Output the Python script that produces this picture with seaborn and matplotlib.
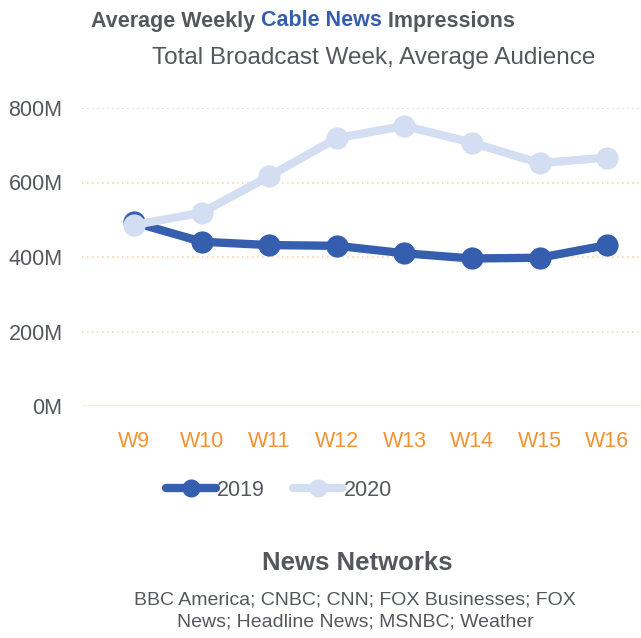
import matplotlib
matplotlib.use("Agg")
import matplotlib.pyplot as plt
import seaborn as sns
import pandas as pd
from matplotlib.lines import Line2D

weeks = ["W9", "W10", "W11", "W12", "W13", "W14", "W15", "W16"]
values_2019 = [493, 441, 432, 430, 410, 396, 398, 432]
values_2020 = [486, 519, 617, 719, 752, 707, 652, 667]
series_names = ["2019", "2020"]
ytick_values = [0, 200, 400, 600, 800]
ytick_labels = ["0M", "200M", "400M", "600M", "800M"]

sns.set_theme(style="white")
plt.rcParams["font.family"] = ["Liberation Sans", "DejaVu Sans"]

df = pd.DataFrame({
    "week": weeks * 2,
    "value": values_2019 + values_2020,
    "year": [series_names[0]] * len(weeks) + [series_names[1]] * len(weeks),
})

dark = "#365EAF"
light = "#D4DEF2"
grey = "#54585D"
orange = "#F39230"

fig = plt.figure(figsize=(6.41, 6.38), dpi=100)
ax = fig.add_axes([82 / 641, 1 - 406 / 638, 1 - 82 / 641, (406 - 108) / 638])

sns.lineplot(data=df, x="week", y="value", hue="year", hue_order=series_names,
             palette={"2019": dark, "2020": light}, marker="o", markersize=16,
             markeredgewidth=0, linewidth=6, ax=ax, legend=False, clip_on=False,
             sort=False)
for ln in ax.lines:
    ln.set_solid_capstyle("round")
    ln.set_solid_joinstyle("round")
ax.lines[0].set_zorder(3)
ax.lines[1].set_zorder(4)

ax.set_xlim(-0.77, 7.5)
ax.set_ylim(0, 800)
ax.set_yticks(ytick_values)
ax.set_yticklabels(ytick_labels)
for v in ytick_values[1:]:
    ax.axhline(v, color="#F5D9B0", lw=1.2, ls=(0, (1, 2)), zorder=0)
ax.axhline(0, color="#FBF1E3", lw=1.5, zorder=0)
for s in ax.spines.values():
    s.set_visible(False)
ax.grid(False)
ax.set_xlabel("")
ax.set_ylabel("")
ax.tick_params(axis="y", labelsize=15.5, colors=grey, length=0, pad=14)
ax.tick_params(axis="x", labelsize=15.5, colors=orange, length=0, pad=18)

handles = [Line2D([], [], color=dark, lw=6, marker="o", markersize=12, solid_capstyle="round"),
           Line2D([], [], color=light, lw=6, marker="o", markersize=12, solid_capstyle="round")]
fig.legend(handles, series_names, loc="center", bbox_to_anchor=(279 / 641, 1 - 490 / 638),
           ncol=2, frameon=False, fontsize=15.5, handlelength=2.3, columnspacing=1.3,
           handletextpad=0.05, labelcolor=grey)

renderer = fig.canvas.get_renderer()
parts = [("Average Weekly ", grey), ("Cable News", dark), (" Impressions", grey)]
objs = [fig.text(0, 1 - 21 / 638, txt, color=col, fontsize=15.5, fontweight="bold",
                 ha="left", va="center") for txt, col in parts]
widths = [o.get_window_extent(renderer).width for o in objs]
x0 = 303 - sum(widths) / 2
for o, w in zip(objs, widths):
    o.set_x(x0 / 641)
    x0 += w

fig.text(374 / 641, 1 - 58 / 638, "Total Broadcast Week, Average Audience", color=grey,
         fontsize=17.5, ha="center", va="center")
fig.text(357 / 641, 1 - 563 / 638, "News Networks", color=grey, fontsize=18.5,
         fontweight="bold", ha="center", va="center")
fig.text(355 / 641, 1 - 611 / 638, "BBC America; CNBC; CNN; FOX Businesses; FOX\nNews; Headline News; MSNBC; Weather",
         color=grey, fontsize=14, ha="center", va="center", linespacing=1.4)

fig.savefig("out.png", dpi=100)
